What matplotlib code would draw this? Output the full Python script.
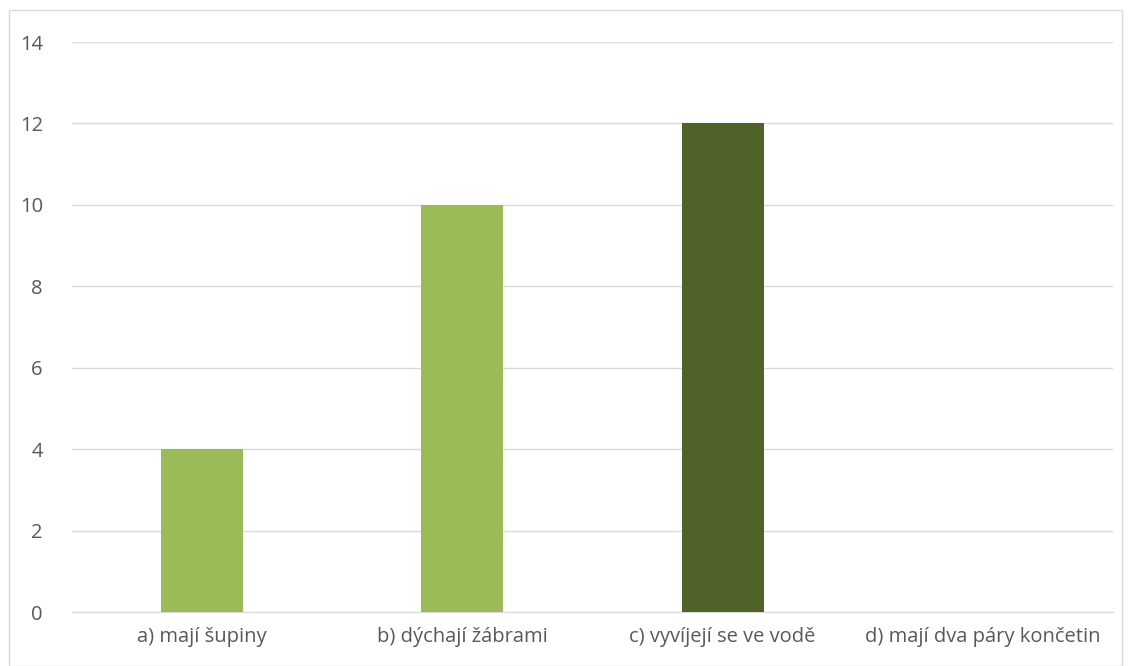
import matplotlib
matplotlib.use("Agg")
import matplotlib.pyplot as plt
from matplotlib.patches import Rectangle

categories = ["a) mají šupiny", "b) dýchají žábrami", "c) vyvíjejí se ve vodě", "d) mají dva páry končetin"]
values = [4, 10, 12, 0]
colors = ["#9BBB59", "#9BBB59", "#4F6228", "#9BBB59"]
yticks = [0, 2, 4, 6, 8, 10, 12, 14]

plt.rcParams['font.family'] = ['Open Sans', 'DejaVu Sans']

fig = plt.figure(figsize=(11.32, 6.66), dpi=100)
fig.patches.append(Rectangle((9/1132, 0), (1122-9)/1132, (666-10)/666, transform=fig.transFigure,
                             fill=False, edgecolor="#D9D9D9", linewidth=1))
ax = fig.add_axes([72/1132, 1-612/666, (1113-72)/1132, (612-42)/666])
x = list(range(len(categories)))
ax.bar(x, values, width=0.315, color=colors, zorder=3)
ax.set_xlim(-0.5, len(categories) - 0.5)
ax.set_ylim(0, 14)
ax.set_yticks(yticks)
ax.set_xticks(x)
ax.set_xticklabels(categories)
ax.yaxis.grid(True, color="#D9D9D9", linewidth=1)
ax.set_axisbelow(True)
for s in ["top", "right", "left"]:
    ax.spines[s].set_visible(False)
ax.spines["bottom"].set_color("#D9D9D9")
ax.tick_params(axis="both", length=0, labelsize=14.5, labelcolor="#595959")
ax.tick_params(axis="y", pad=21)
ax.tick_params(axis="x", pad=11)
fig.savefig("out.png", dpi=100)
